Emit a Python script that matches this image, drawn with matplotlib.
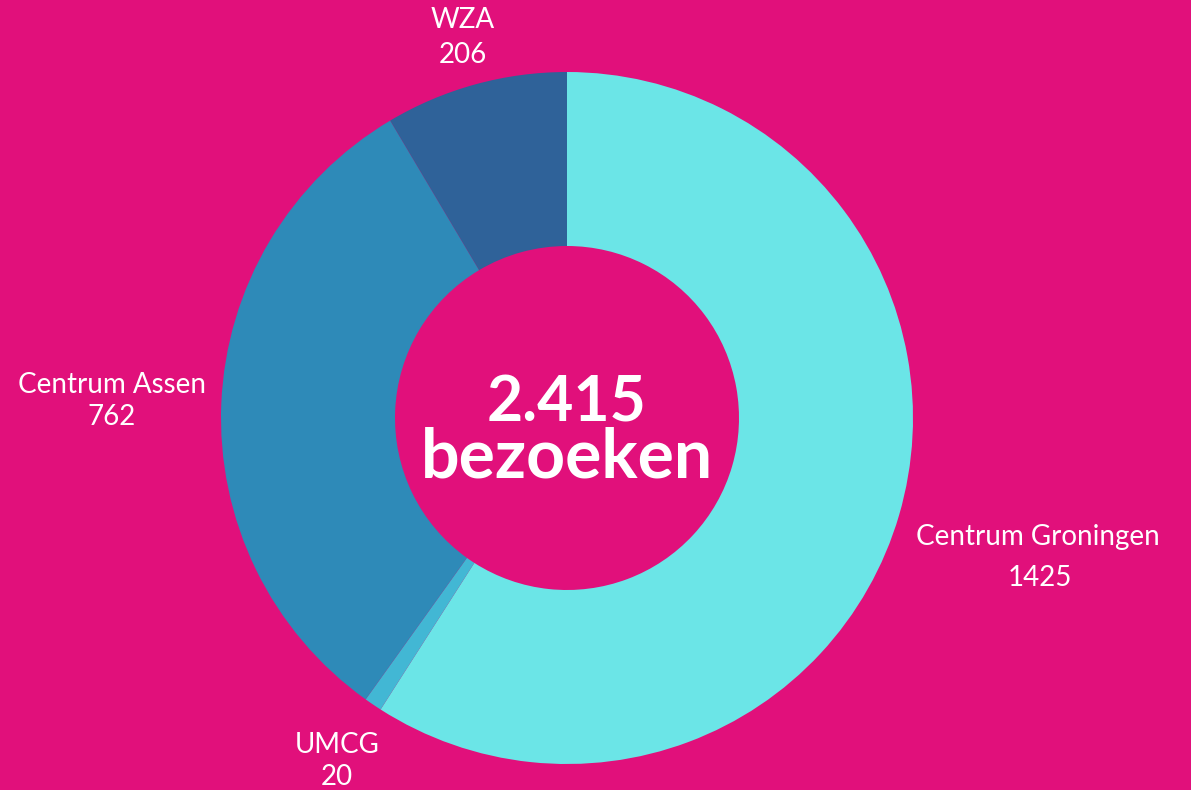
import matplotlib.pyplot as plt

# data
labels = ['Centrum Groningen', 'UMCG', 'Centrum Assen', 'WZA']
values = [1425, 20, 762, 206]
colors = ['#6BE5E7', '#42B7D4', '#2E8AB8', '#2F6299']
total_label = '2.415'

bg = '#E1107B'
W, H = 1191, 790

fig = plt.figure(figsize=(W / 100, H / 100), dpi=100, facecolor=bg)
ax = fig.add_axes([0, 0, 1, 1])
ax.set_facecolor(bg)

cx, cy = 567, H - 418
ax.pie(values, colors=colors, startangle=90, counterclock=False,
       center=(cx, cy), radius=346,
       wedgeprops=dict(width=346 - 172, linewidth=0), frame=True)
ax.set_xlim(0, W)
ax.set_ylim(0, H)
ax.set_aspect('equal')
ax.axis('off')

font = ['Lato', 'DejaVu Sans']
# label positions (name, value) in pixel coords from top
label_pos = {
    'Centrum Groningen': ((1038, 537), (1040, 578)),
    'UMCG': ((337, 745), (337, 777)),
    'Centrum Assen': ((112, 385), (112, 417)),
    'WZA': ((463, 20), (463, 55)),
}
for name, val in zip(labels, values):
    (nx, ny), (vx, vy) = label_pos[name]
    ax.text(nx, H - ny, name, ha='center', va='center', color='white',
            fontsize=20, family=font)
    ax.text(vx, H - vy, str(val), ha='center', va='center', color='white',
            fontsize=20, family=font)

ax.text(cx, H - 403, total_label, ha='center', va='center', color='white',
        fontsize=45, fontweight='bold', family=font)
ax.text(cx, H - 458, 'bezoeken', ha='center', va='center', color='white',
        fontsize=49, fontweight='bold', family=font)

fig.savefig('out.png', dpi=100, facecolor=bg)
